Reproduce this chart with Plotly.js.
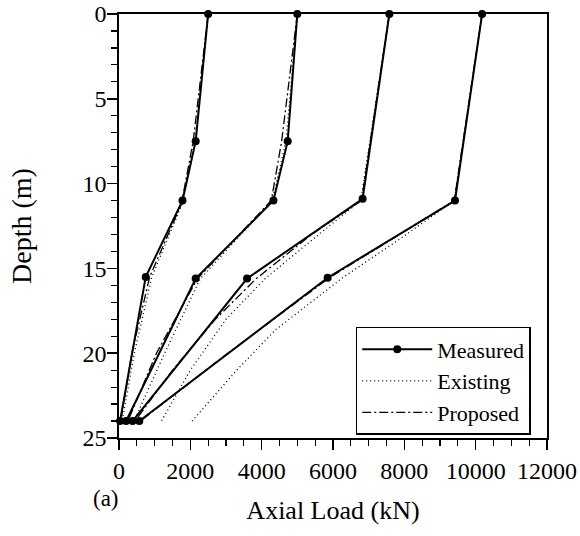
<!DOCTYPE html>
<html>
<head>
<meta charset="utf-8">
<script src="https://cdn.plot.ly/plotly-3.0.1.min.js"></script>
<style>html,body{margin:0;padding:0;background:#fff;}#chart{width:580px;height:536px;}</style>
</head>
<body>
<div id="chart"></div>
<script>
// Depths (m) and axial loads (kN)
const seriesNames = ["Measured", "Existing", "Proposed"];

// Measured
const measDepth1 = [0, 7.5, 11, 15.5, 24];
const measLoad1  = [2500, 2150, 1780, 750, 30];
const measDepth2 = [0, 7.5, 11, 15.6, 24];
const measLoad2  = [5000, 4730, 4330, 2150, 200];
const measDepth3 = [0, 10.9, 15.6, 24];
const measLoad3  = [7580, 6830, 3590, 380];
const measDepth4 = [0, 11, 15.55, 24];
const measLoad4  = [10180, 9420, 5850, 570];

// Existing
const exDepth1 = [0, 7.5, 11.2, 15.5, 20, 24];
const exLoad1  = [2500, 2130, 1770, 920, 430, 90];
const exDepth2 = [0, 7.5, 11, 15.6, 20, 24];
const exLoad2  = [5000, 4680, 4300, 2280, 1280, 420];
const exDepth3 = [0, 11, 13, 15.6, 18, 21, 24];
const exLoad3  = [7580, 6780, 5600, 4100, 3000, 2000, 1190];
const exDepth4 = [0, 11, 13.3, 15.55, 18.6, 21, 24];
const exLoad4  = [10180, 9400, 7850, 6270, 4400, 3300, 2050];

// Proposed
const prDepth1 = [0, 7.5, 11.2, 15.5, 20, 24];
const prLoad1  = [2500, 2080, 1750, 860, 360, 50];
const prDepth2 = [0, 7.5, 11, 15.6, 20, 24];
const prLoad2  = [5000, 4560, 4270, 2200, 1050, 250];
const prDepth3 = [0, 11, 13, 15.6, 18, 21, 24];
const prLoad3  = [7580, 6800, 5400, 3850, 2700, 1500, 450];
const prDepth4 = [0, 11, 15.55, 20, 24];
const prLoad4  = [10180, 9400, 5900, 3050, 600];

const xTickVals = [0, 2000, 4000, 6000, 8000, 10000, 12000];
const yTickVals = [0, 5, 10, 15, 20, 25];

const FONT = "Liberation Serif, Times New Roman, serif";

const meas = [[measLoad1, measDepth1], [measLoad2, measDepth2], [measLoad3, measDepth3], [measLoad4, measDepth4]];
const ex = [[exLoad1, exDepth1], [exLoad2, exDepth2], [exLoad3, exDepth3], [exLoad4, exDepth4]];
const pr = [[prLoad1, prDepth1], [prLoad2, prDepth2], [prLoad3, prDepth3], [prLoad4, prDepth4]];

const traces = [];
meas.forEach((s, i) => traces.push({
  x: s[0], y: s[1], type: "scatter", mode: "lines+markers",
  name: seriesNames[0], legendgroup: "m", showlegend: i === 0, legendrank: 1,
  line: {color: "#000", width: 2}, marker: {color: "#000", size: 8, symbol: "circle"},
  cliponaxis: false, hoverinfo: "skip"
}));
ex.forEach((s, i) => traces.push({
  x: s[0], y: s[1], type: "scatter", mode: "lines",
  name: seriesNames[1], legendgroup: "e", showlegend: i === 0, legendrank: 2,
  line: {color: "#000", width: 1.3, dash: "1px,3px"}, hoverinfo: "skip"
}));
pr.forEach((s, i) => traces.push({
  x: s[0], y: s[1], type: "scatter", mode: "lines",
  name: seriesNames[2], legendgroup: "p", showlegend: i === 0, legendrank: 3,
  line: {color: "#000", width: 1.3, dash: "9px,3px,2px,3px"}, hoverinfo: "skip"
}));

const layout = {
  width: 580, height: 536,
  margin: {l: 119, r: 33, t: 14, b: 98},
  paper_bgcolor: "#fff", plot_bgcolor: "#fff",
  font: {family: FONT, color: "#000", size: 24},
  showlegend: true,
  legend: {
    x: 0.962, xanchor: "right", y: 0.262, yanchor: "top",
    bordercolor: "#000", borderwidth: 1.5, bgcolor: "#fff",
    font: {family: FONT, size: 22, color: "#000"},
    itemwidth: 70, tracegroupgap: 0, traceorder: "normal"
  },
  xaxis: {
    range: [0, 12000], tickvals: xTickVals, ticktext: xTickVals.map(String),
    ticks: "outside", ticklen: 10, tickwidth: 1.5, tickcolor: "#000",
    minor: {dtick: 500, tick0: 0, ticks: "outside", ticklen: 6, tickwidth: 1.2, tickcolor: "#000"},
    showline: true, linecolor: "#000", linewidth: 1.8, mirror: true,
    showgrid: false, zeroline: false,
    tickfont: {family: FONT, size: 24, color: "#000"},
    title: {text: "Axial Load (kN)", font: {family: FONT, size: 26, color: "#000"}, standoff: 18}
  },
  yaxis: {
    range: [25, 0], tickvals: yTickVals, ticktext: yTickVals.map(String),
    ticks: "outside", ticklen: 10, tickwidth: 1.5, tickcolor: "#000",
    minor: {dtick: 1, tick0: 0, ticks: "outside", ticklen: 6, tickwidth: 1.2, tickcolor: "#000"},
    showline: true, linecolor: "#000", linewidth: 1.8, mirror: true,
    showgrid: false, zeroline: false, ticklabelstandoff: -4,
    tickfont: {family: FONT, size: 24, color: "#000"},
    title: {text: "Depth (m)", font: {family: FONT, size: 28, color: "#000"}, standoff: 43}
  },
  annotations: [{
    text: "(a)", xref: "paper", yref: "paper", x: -0.03, y: -0.142,
    xanchor: "center", yanchor: "middle", showarrow: false,
    font: {family: FONT, size: 23, color: "#000"}
  }]
};

Plotly.newPlot("chart", traces, layout, {displayModeBar: false, staticPlot: true});
</script>
</body>
</html>
